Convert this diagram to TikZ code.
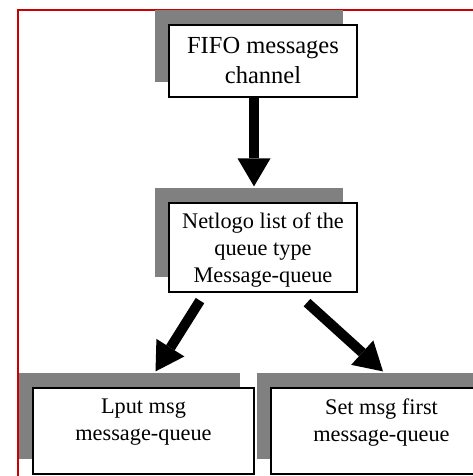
\documentclass[tikz,border=0pt]{standalone}
\usepackage{fontspec}
\setmainfont{Liberation Serif}
\usetikzlibrary{arrows.meta,shadows}
\definecolor{framered}{RGB}{204,0,0}

\begin{document}
\begin{tikzpicture}[x=1pt, y=-1pt]
    \tikzstyle{box}=[
        draw = black,
        line width = 1.2pt,
        fill = white,
        align = center,
        inner sep = 0pt,
        font = \fontsize{22.3pt}{27pt}\selectfont,
        drop shadow = {shadow xshift=-14pt, shadow yshift=15pt, fill=gray, opacity=1}
    ]
    \tikzstyle{big arrow}=[
        line width = 10pt,
        -{Triangle[width=33pt, length=28pt, line width=0pt]}
    ]

    \clip (0, 0) rectangle (473, 476);
    \draw[framered, line width=2pt] (18, 10) rectangle (500, 500);

	\node[box, minimum width=188pt, minimum height=72pt, font=\fontsize{24.5pt}{30pt}\selectfont] (fifo) at (263, 61) {FIFO messages\\channel};
	\node[box, minimum width=188pt, minimum height=89pt, text depth=0pt] (netlogo) at (263, 247.5) {Netlogo list of the\\queue type\\Message-queue};
	\node[box, minimum width=221pt, minimum height=86pt, text depth=22pt] (lput)   at (143.5, 431) {Lput msg\\message-queue};
	\node[box, minimum width=221pt, minimum height=86pt, text depth=22pt] (setmsg) at (381.5, 431) {Set msg first\\message-queue};

	\draw[big arrow] ([xshift=-9pt]fifo.south) -- ([xshift=-9pt, yshift=16pt]netlogo.north);
	\draw[big arrow] ([xshift=-63pt, yshift=-8pt]netlogo.south) -- ([xshift=12pt, yshift=16pt]lput.north);
	\draw[big arrow] ([xshift=44pt, yshift=-10pt]netlogo.south) -- ([xshift=1.5pt, yshift=16pt]setmsg.north);

\end{tikzpicture}
\end{document}
